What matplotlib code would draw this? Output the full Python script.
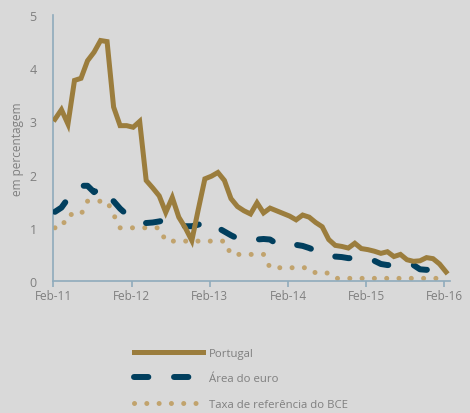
import numpy as np
import matplotlib
matplotlib.use("Agg")
import matplotlib.pyplot as plt

plt.rcParams['font.family'] = ['Open Sans', 'DejaVu Sans']

# meses desde Feb-11 (0) até Feb-16 (60)
TICK_LABELS = ['Feb-11', 'Feb-12', 'Feb-13', 'Feb-14', 'Feb-15', 'Feb-16']

portugal = [
    3.04, 3.22, 2.95, 3.77, 3.81, 4.14, 4.30, 4.52, 4.50, 3.27, 2.92, 2.92,
    2.89, 3.00, 1.89, 1.75, 1.60, 1.29, 1.57, 1.20, 1.00, 0.76, 1.35, 1.92,
    1.97, 2.04, 1.89, 1.55, 1.40, 1.32, 1.26, 1.47, 1.28, 1.37, 1.32, 1.27,
    1.22, 1.15, 1.24, 1.20, 1.10, 1.02, 0.78, 0.67, 0.65, 0.62, 0.71, 0.61,
    0.59, 0.56, 0.52, 0.55, 0.46, 0.50, 0.40, 0.37, 0.38, 0.44, 0.42, 0.32,
    0.17,
]
area_euro = [
    1.30, 1.38, 1.55, 1.70, 1.79, 1.79, 1.67, 1.76, 1.62, 1.50, 1.36, 1.25,
    1.18, 1.12, 1.09, 1.10, 1.12, 1.15, 1.10, 1.06, 1.03, 1.03, 1.06, 1.09,
    1.11, 1.00, 0.93, 0.86, 0.80, 0.79, 0.76, 0.78, 0.79, 0.78, 0.70, 0.73,
    0.72, 0.68, 0.66, 0.62, 0.57, 0.55, 0.50, 0.46, 0.45, 0.43, 0.43, 0.42,
    0.42, 0.38, 0.32, 0.30, 0.30, 0.29, 0.28, 0.30, 0.22, 0.21, 0.23, 0.26,
    0.19,
]
taxa_bce = [
    1.00, 1.00, 1.25, 1.25, 1.25, 1.50, 1.50, 1.50, 1.50, 1.25, 1.00, 1.00,
    1.00, 1.00, 1.00, 1.00, 1.00, 0.75, 0.75, 0.75, 0.75, 0.75, 0.75, 0.75,
    0.75, 0.75, 0.75, 0.50, 0.50, 0.50, 0.50, 0.50, 0.50, 0.25, 0.25, 0.25,
    0.25, 0.25, 0.25, 0.25, 0.15, 0.15, 0.15, 0.05, 0.05, 0.05, 0.05, 0.05,
    0.05, 0.05, 0.05, 0.05, 0.05, 0.05, 0.05, 0.05, 0.05, 0.05, 0.05, 0.05,
    0.05,
]

BG = '#d9d9d9'
GOLD = '#9b7d3d'
NAVY = '#013f5e'
TAN = '#c1a36d'
AXIS = '#8fabbc'
TXT = '#7f7f7f'

x = np.arange(len(portugal))

fig = plt.figure(figsize=(4.7, 4.14), dpi=100, facecolor=BG)
ax = fig.add_axes([0.1134, 0.3188, 0.844, 0.6426], facecolor=BG)

ax.plot(x, taxa_bce, color=TAN, lw=3.6, linestyle=(0, (0.01, 2.45)),
        dash_capstyle='round', label='Taxa de referência do BCE', zorder=2)
ax.plot(x, area_euro, color=NAVY, lw=4.3, linestyle=(0, (2.4, 4.3)),
        dash_capstyle='round', label='Área do euro', zorder=3)
ax.plot(x, portugal, color=GOLD, lw=3.6, solid_joinstyle='miter',
        label='Portugal', zorder=4)

ax.set_ylim(0, 5)
ax.set_xlim(-0.25, 60.6)
ax.set_yticks(range(6))
ax.set_xticks(np.arange(0, 61, 12) - 0.25)
ax.set_xticklabels(TICK_LABELS)

for s in ['top', 'right']:
    ax.spines[s].set_visible(False)
for s in ['left', 'bottom']:
    ax.spines[s].set_color(AXIS)
    ax.spines[s].set_linewidth(1.2)
ax.tick_params(axis='y', length=0, pad=12, labelsize=9, labelcolor=TXT)
ax.tick_params(axis='x', length=4, width=1.2, color=AXIS, pad=2,
               labelsize=8.5, labelcolor=TXT)
ax.set_ylabel('em percentagem', color=TXT, fontsize=8.5, labelpad=4)

handles, labels = ax.get_legend_handles_labels()
order = [2, 1, 0]
fig.legend([handles[i] for i in order], [labels[i] for i in order],
           loc='upper left', bbox_to_anchor=(0.285, 0.158), frameon=False,
           fontsize=8.2, handlelength=6.1, handletextpad=0.5,
           labelspacing=1.3, borderpad=0, borderaxespad=0, labelcolor=TXT)

fig.savefig('out.png', dpi=100, facecolor=BG)
